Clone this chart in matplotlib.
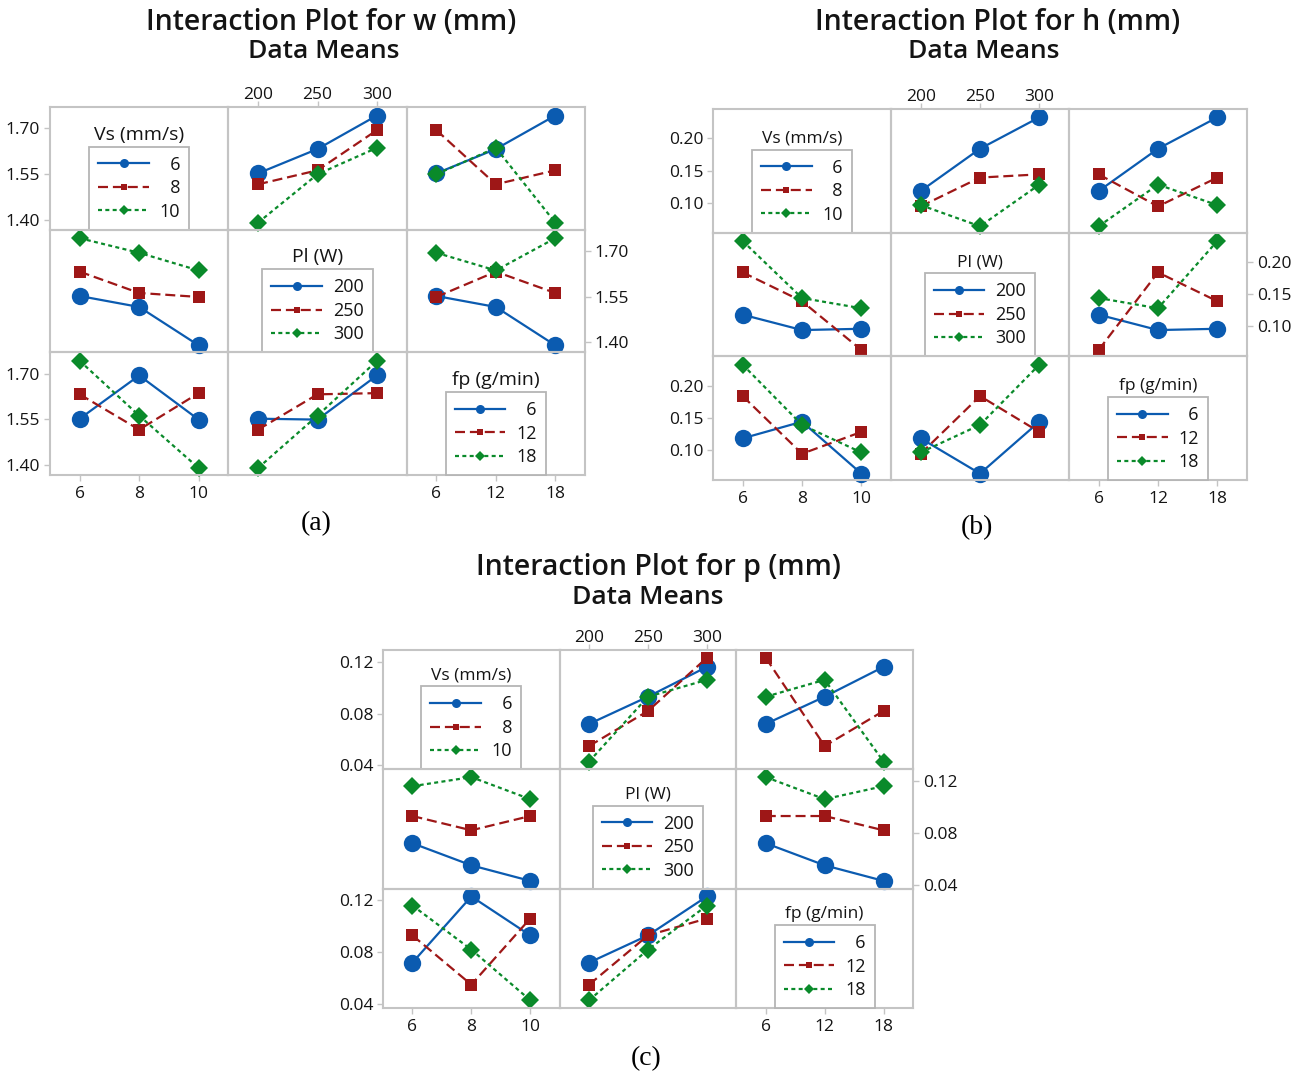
import matplotlib
matplotlib.use('Agg')
import matplotlib.pyplot as plt
from matplotlib.lines import Line2D
import pandas as pd

# ---- data: L9 runs (factor levels of each run) and the measured responses ----
vs_run = [6, 6, 6, 8, 8, 8, 10, 10, 10]
pl_run = [200, 250, 300, 200, 250, 300, 200, 250, 300]
fp_run = [6, 12, 18, 12, 18, 6, 18, 6, 12]
w_run = [1.552, 1.632, 1.742, 1.516, 1.562, 1.694, 1.390, 1.549, 1.636]
h_run = [0.118, 0.184, 0.233, 0.094, 0.139, 0.144, 0.096, 0.063, 0.128]
p_run = [0.072, 0.093, 0.116, 0.055, 0.082, 0.123, 0.043, 0.093, 0.106]

vs_levels = [6, 8, 10]
pl_levels = [200, 250, 300]
fp_levels = [6, 12, 18]
factor_names = ['Vs (mm/s)', 'Pl (W)', 'fp (g/min)']
w_ticks = [1.40, 1.55, 1.70]
h_ticks = [0.10, 0.15, 0.20]
p_ticks = [0.04, 0.08, 0.12]

plt.rcParams['font.family'] = ['Open Sans', 'DejaVu Sans']
plt.rcParams['font.weight'] = 'medium'

W, H = 1308, 1080
fig = plt.figure(figsize=(W / 100, H / 100), dpi=100)


def rect(x, y, w, h):
    return [x / W, 1 - (y + h) / H, w / W, h / H]


BLUE = '#0b5bb0'
RED = '#9e1717'
GREEN = '#0a8a2a'
BORDER = '#c4c4c4'
TXT = '#141414'

line_styles = [
    dict(color=BLUE, linestyle='-', marker='o'),
    dict(color=RED, linestyle=(0, (4.5, 2.2)), marker='s'),
    dict(color=GREEN, linestyle=(0, (1.8, 1.5)), marker='D'),
]
big_ms = [12.5, 9, 9]
small_ms = [6.5, 5, 5]

df = pd.DataFrame({'Vs': vs_run, 'Pl': pl_run, 'fp': fp_run,
                   'w': w_run, 'h': h_run, 'p': p_run})
cols = ['Vs', 'Pl', 'fp']
levels = [vs_levels, pl_levels, fp_levels]
xlims = [(5, 11), (175, 325), (3, 21)]

diag_info = []


def draw(resp, box, ylim, yticks, leg_fs, ltitle_fs):
    left, top, right, bottom = box
    cw = (right - left) / 3
    rh = (bottom - top) / 3
    ylabels = ['{:.2f}'.format(v) for v in yticks]
    for i in range(3):
        for j in range(3):
            ax = fig.add_axes(rect(left + j * cw, top + i * rh, cw, rh))
            ax.set_xlim(*xlims[j])
            ax.set_ylim(*ylim)
            ax.patch.set_alpha(0)
            for s in ax.spines.values():
                s.set_color(BORDER)
                s.set_linewidth(1.5)
            ax.tick_params(axis='both', colors=BORDER, labelcolor=TXT,
                           length=4, width=1, labelsize=12.5, pad=3)
            ax.tick_params(axis='x', pad=4)
            if i == 2 and j in (0, 2):
                ax.set_xticks(levels[j])
                ax.set_xticklabels([str(v) for v in levels[j]])
            elif i == 0 and j == 1:
                ax.xaxis.tick_top()
                ax.tick_params(axis='x', pad=-1)
                ax.set_xticks(levels[j])
                ax.set_xticklabels([str(v) for v in levels[j]])
            else:
                ax.set_xticks([])
            if j == 0 and i in (0, 2):
                ax.set_yticks(yticks)
                ax.set_yticklabels(ylabels)
            elif j == 2 and i == 1:
                ax.yaxis.tick_right()
                ax.set_yticks(yticks)
                ax.set_yticklabels(ylabels)
            else:
                ax.set_yticks([])
            if i == j:
                handles = [Line2D([], [], lw=1.6, ms=small_ms[k], mew=0,
                                  **line_styles[k]) for k in range(3)]
                labs = [str(v) for v in levels[i]]
                n = max(len(s) for s in labs)
                labs = ['\u2007' * (n - len(s)) + s for s in labs]
                leg = ax.legend(handles, labs, loc='lower center',
                                bbox_to_anchor=(0.5, 0.0), borderaxespad=0,
                                fancybox=False, framealpha=1, edgecolor='#b5b5b5',
                                fontsize=leg_fs, handlelength=2.8,
                                handletextpad=0.6, labelspacing=0.3,
                                borderpad=0.5, numpoints=1)
                leg.get_frame().set_linewidth(1.3)
                for t in leg.get_texts():
                    t.set_color(TXT)
                diag_info.append((leg, factor_names[i], ltitle_fs))
            else:
                tbl = df.groupby([cols[i], cols[j]])[resp].mean().unstack(cols[j])
                for k, lev in enumerate(levels[i]):
                    ax.plot(levels[j], tbl.loc[lev, levels[j]].to_numpy(),
                            lw=1.6, ms=big_ms[k], mew=0, clip_on=False,
                            **line_styles[k])


draw('w', (50, 107, 585, 475), (1.367, 1.770), w_ticks, 13, 14)
draw('h', (713, 109, 1247, 480), (0.053, 0.246), h_ticks, 13, 12.5)
draw('p', (383, 650, 913, 1008), (0.037, 0.129), p_ticks, 13, 12.5)

# titles
tkw = dict(ha='center', va='center', fontsize=20.5, color=TXT, fontweight='semibold')
dkw = dict(ha='center', va='center', fontsize=19, color=TXT, fontweight='semibold')
fig.text(331 / W, 1 - 22 / H, 'Interaction Plot for w (mm)', **tkw)
fig.text(324 / W, 1 - 52 / H, 'Data Means', **dkw)
fig.text(998 / W, 1 - 22 / H, 'Interaction Plot for h (mm)', **tkw)
fig.text(984 / W, 1 - 51 / H, 'Data Means', **dkw)
fig.text(658 / W, 1 - 567 / H, 'Interaction Plot for p (mm)', **tkw)
fig.text(648 / W, 1 - 597 / H, 'Data Means', **dkw)

serif = ['Liberation Serif', 'DejaVu Serif']
fig.text(316 / W, 1 - 524 / H, '(a)', ha='center', va='center', fontsize=20, family=serif,
         fontweight='normal', color='black')
fig.text(977 / W, 1 - 528 / H, '(b)', ha='center', va='center', fontsize=20, family=serif,
         fontweight='normal', color='black')
fig.text(646 / W, 1 - 1059 / H, '(c)', ha='center', va='center', fontsize=20, family=serif,
         fontweight='normal', color='black')

# legend titles placed just above each legend box
fig.canvas.draw()
for leg, name, fs in diag_info:
    bb = leg.get_window_extent()
    fig.text((bb.x0 + bb.x1) / 2 / W, (bb.y1 + 3) / H, name, ha='center', va='bottom',
             fontsize=fs, color=TXT)

fig.savefig('out.png', dpi=100, facecolor='white')
